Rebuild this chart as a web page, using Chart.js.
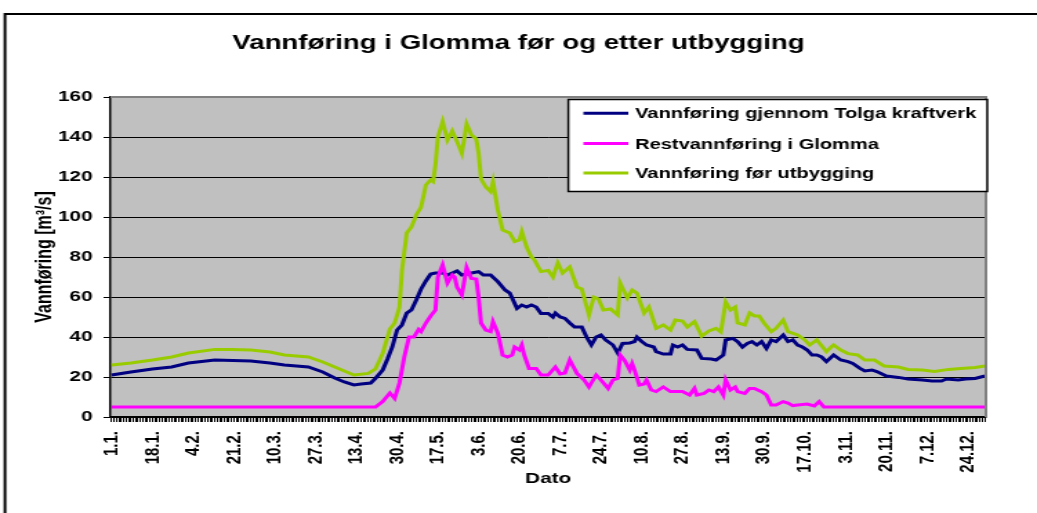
<!DOCTYPE html>
<html>
<head>
<meta charset="utf-8">
<script src="https://cdn.jsdelivr.net/npm/chart.js@4.4.1/dist/chart.umd.min.js"></script>
<style>
html,body{margin:0;padding:0;background:#fff;overflow:hidden;}
/* the source picture is an Excel chart stretched sideways, so draw narrow and stretch */
#wrap{position:absolute;left:0;top:0;width:751px;height:513px;transform:scaleX(1.3808);transform-origin:0 0;}
</style>
</head>
<body>
<div id="wrap"><canvas id="flowChart"></canvas></div>
<script>

const tickLabels = ["1.1.","18.1.","4.2.","21.2.","10.3.","27.3.","13.4.","30.4.","17.5.","3.6.","20.6.",
"7.7.","24.7.","10.8.","27.8.","13.9.","30.9.","17.10.","3.11.","20.11.","7.12.","24.12."];

const seriesNames = ["Vannføring gjennom Tolga kraftverk","Restvannføring i Glomma","Vannføring før utbygging"];

// day of year (0 = 1.1.) and flow in m3/s
const tolgaDays = [0,8,17,25,32,43,58,66,72,82,88,93,97,101,104,108,110,113,115,117,
119,121,123,125,127,129,131,133,135,138,140,142,144,146,148,150,153,155,158,161,
164,166,169,171,173,175,177,179,182,184,185,187,189,191,193,196,198,200,202,204,
206,209,211,213,216,218,219,221,223,226,227,230,233,234,236,238,240,244,246,250,
252,255,256,259,261,263,265,267,269,271,273,275,277,280,282,284,286,288,290,292,
294,296,298,301,304,307,309,312,314,317,319,323,328,332,338,342,346,348,353,356,360,364];
const tolgaFlow = [21,22.5,24,25,27,28.5,28,27,26,25,22.5,19.5,17.5,16,16.5,17,19.3,23.5,29,35,
43.5,46,52,53.5,58.5,64,68,71.5,72,72,71,72,73,71,71.5,72,72.7,71,71,67.7,
63.5,62,54.3,56,55,56,55,51.8,51.8,50,52,50,49.3,47,45,45,40,36,40,41,
38.5,36,32,36.8,37,37.7,40,37.7,36,35,32.7,31.5,31.5,36,35,36,33.8,33.5,29.3,29,
28.5,31,38.5,39.3,37.7,35,36.8,37.7,36,37.7,34.3,38.5,37.7,41,37.7,38.5,36,35,33.5,31,
31,30,27.7,31,28.5,27.7,26.8,24.3,23,23.5,22.7,20.5,19.8,19,18.5,18,18,19,18.5,19,19.3,20.5];

const restDays = [0,110,113,116,118,120,122,124,126,128,129,131,133,135,136,138,140,142,143,144,
146,148,150,152,153,154,156,158,159,161,163,165,167,168,170,171,172,174,177,179,
182,185,187,189,191,194,197,199,202,204,207,209,211,212,214,216,217,218,220,222,
223,225,227,230,233,238,241,243,244,247,249,251,253,255,256,258,260,261,264,266,
268,271,273,275,277,280,282,284,286,290,293,295,297,364];
const restFlow = [5,5,7.7,12,9.3,17,30,40,40,43.8,42.7,47,50.5,53.5,70,76,67,71,70,65,
61,74.8,69.3,69,60,47,43.5,42.7,47.7,42,31,30,31,35,33.5,36,31,24.3,24.3,21,
21,25,21.5,22,28.5,21.8,18.5,15,21,18.5,14.3,18.5,19.3,31,28,23.5,26.7,23.5,16,16.5,
18.5,13.5,12.7,15,12.7,12.7,11,14.3,11,11.8,13.5,12.7,15,11,18.5,13.5,15,12.7,11.8,14.3,
14.3,12.7,11,6,6,7.7,7,5.7,6,6.5,5.5,7.7,5,5];

const naturalDays = [0,8,17,25,32,43,50,58,66,72,82,88,93,101,107,110,113,116,118,120,
121,123,125,127,129,131,133,134,135,136,138,140,142,144,146,148,150,152,153,154,
156,158,159,161,163,166,168,170,171,173,175,176,179,182,184,186,188,191,194,196,
199,201,203,205,208,211,212,215,217,219,222,224,227,230,233,235,238,240,243,246,
249,252,254,256,258,260,261,264,266,268,270,272,275,277,280,282,286,289,291,294,
298,300,301,304,307,311,314,318,322,328,332,338,343,349,354,360,364];
const naturalFlow = [26,27,28.5,30,32,33.8,33.8,33.5,32.5,31,30,27.5,25,21,21.8,24,31.8,44,47,55,
73,92,95,101,105,116,118.5,117.7,126,140,147.7,138.5,143,137.7,131.8,146.5,141,139,131.8,119,
115,112.7,117.7,103.5,93.5,92,87.7,88.5,92.7,85,80,79,72.7,73.3,70,77,72,75,65,64,
51,60,59,53.5,54,51,67,59.5,63.5,62,52,55,44.3,46,43.5,48.5,48,45,47.7,40.5,
43,44.3,42.5,57.5,53.5,55,47,46,52,50.5,50.5,47,42.7,44.3,48.5,42.7,41,38.5,36,38.5,
32.7,35,36,33.5,31.7,31,28.5,28.5,25.5,25,23.8,23.5,22.8,23.8,24.3,24.8,25.5];

function toPoints(days, vals){
  return days.map((d,i) => ({x:d, y:vals[i]}));
}

const boldFont = {family:"'Liberation Sans', Arial, sans-serif", weight:"bold", size:15};

// grey plot area, outer frame and the grey top/right edge of the plot
const excelLook = {
  id:"excelLook",
  beforeDraw(chart){
    const ctx = chart.ctx;
    const a = chart.chartArea;
    ctx.save();
    ctx.fillStyle = "#fff";
    ctx.fillRect(0,0,chart.width,chart.height);
    ctx.fillStyle = "#c0c0c0";
    ctx.fillRect(a.left,a.top,a.right-a.left,a.bottom-a.top);
    ctx.strokeStyle = "#000";
    ctx.lineWidth = 2;
    ctx.beginPath();
    ctx.moveTo(3.6,chart.height);
    ctx.lineTo(3.6,14);
    ctx.lineTo(chart.width,14);
    ctx.stroke();
    ctx.restore();
  },
  afterDraw(chart){
    const ctx = chart.ctx;
    const a = chart.chartArea;
    ctx.save();
    ctx.strokeStyle = "#808080";
    ctx.lineWidth = 2;
    ctx.beginPath();
    ctx.moveTo(a.left,a.top);
    ctx.lineTo(a.right,a.top);
    ctx.lineTo(a.right,a.bottom);
    ctx.stroke();
    ctx.restore();
  }
};

// boxed legend sitting inside the plot, top right
const boxLegend = {
  id:"boxLegend",
  afterDraw(chart){
    const ctx = chart.ctx;
    const left = 411.6, top = 99.5, right = 715, bottom = 191.5;
    const rows = [113.3,143.5,173];
    ctx.save();
    ctx.fillStyle = "#fff";
    ctx.fillRect(left,top,right-left,bottom-top);
    ctx.strokeStyle = "#000";
    ctx.lineWidth = 1.5;
    ctx.strokeRect(left,top,right-left,bottom-top);
    ctx.font = "bold 14.5px 'Liberation Sans', Arial, sans-serif";
    ctx.textBaseline = "middle";
    chart.data.datasets.forEach((ds,i) => {
      ctx.strokeStyle = ds.borderColor;
      ctx.lineWidth = 3;
      ctx.beginPath();
      ctx.moveTo(422.5,rows[i]);
      ctx.lineTo(455,rows[i]);
      ctx.stroke();
      ctx.fillStyle = "#000";
      ctx.fillText(ds.label,460,rows[i]+1);
    });
    ctx.restore();
  }
};

new Chart(document.getElementById("flowChart"),{
  type:"line",
  data:{
    datasets:[
      {label:seriesNames[0],data:toPoints(tolgaDays,tolgaFlow),borderColor:"#000080",order:3},
      {label:seriesNames[1],data:toPoints(restDays,restFlow),borderColor:"#ff00ff",order:2},
      {label:seriesNames[2],data:toPoints(naturalDays,naturalFlow),borderColor:"#99cc00",order:1}
    ]
  },
  options:{
    responsive:true,
    maintainAspectRatio:false,
    devicePixelRatio:1,
    animation:false,
    elements:{
      line:{borderWidth:3,tension:0,fill:false},
      point:{radius:0}
    },
    layout:{padding:0},
    plugins:{
      legend:{display:false},
      tooltip:{enabled:false},
      title:{
        display:true,
        text:"Vannføring i Glomma før og etter utbygging",
        color:"#000",
        font:{family:"'Liberation Sans', Arial, sans-serif",weight:"bold",size:20},
        padding:{top:31,bottom:42}
      }
    },
    scales:{
      x:{
        type:"linear",
        min:-0.5,
        max:364.5,
        afterBuildTicks(scale){
          const t = [];
          for(let d=0; d<365; d++) t.push({value:d});
          scale.ticks = t;
        },
        afterFit(scale){ scale.height = 96; },
        ticks:{
          autoSkip:false,
          maxRotation:90,
          minRotation:90,
          padding:9,
          color:"#000",
          font:boldFont,
          callback:(v) => v % 17 === 0 ? tickLabels[v/17] : ""
        },
        grid:{drawOnChartArea:false,drawTicks:true,tickLength:5,color:"#000",lineWidth:1},
        border:{color:"#000",width:1.5},
        title:{display:true,text:"Dato",color:"#000",font:boldFont,padding:{top:0,bottom:25}}
      },
      y:{
        min:0,
        max:160,
        afterFit(scale){ scale.width = 80; },
        ticks:{stepSize:20,padding:8,color:"#000",font:boldFont},
        grid:{color:"#000",lineWidth:1,drawTicks:true,tickLength:5},
        border:{color:"#000",width:1.5},
        title:{display:true,text:"Vannføring [m³/s]",color:"#000",
          font:{family:"'Liberation Sans', Arial, sans-serif",weight:"bold",size:16},padding:{top:23,bottom:0}}
      },
      // empty strip on the right so the plot ends where the picture's does
      rightGap:{
        position:"right",
        afterFit(scale){ scale.width = 37; },
        ticks:{display:false},
        grid:{display:false},
        border:{display:false}
      }
    }
  },
  plugins:[excelLook,boxLegend]
});

</script>
</body>
</html>
